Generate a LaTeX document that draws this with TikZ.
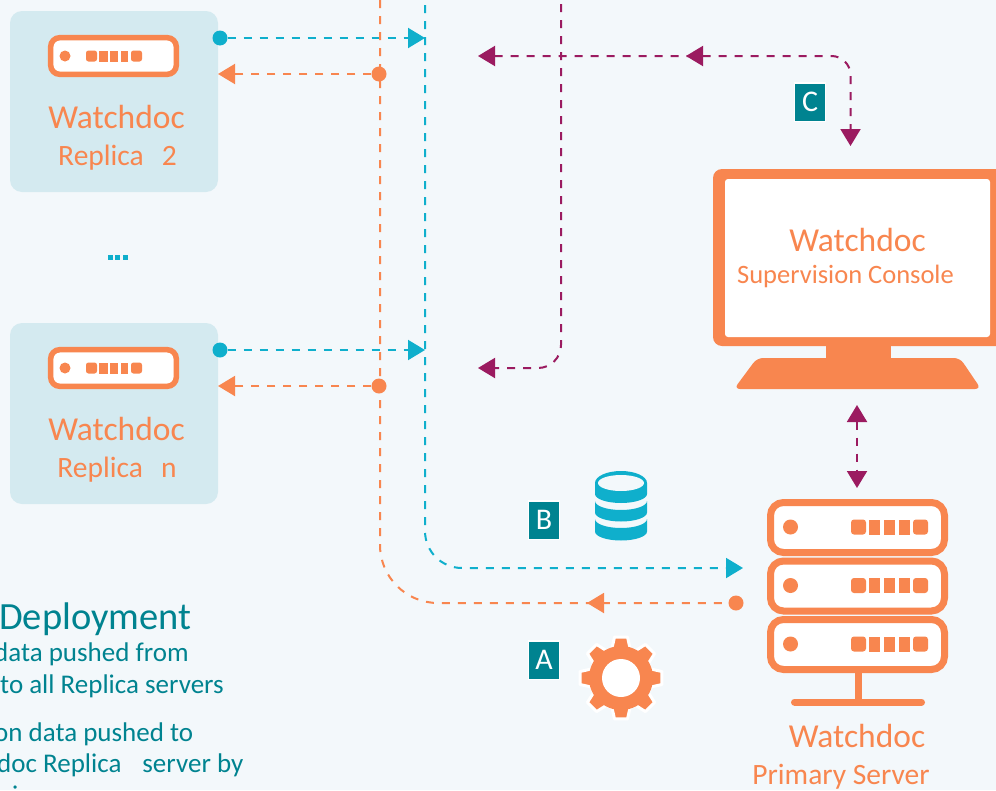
\documentclass[tikz,border=0pt]{standalone}
\usepackage{fontspec}
\setmainfont{Carlito}
\usetikzlibrary{arrows.meta}
\definecolor{bgc}{HTML}{F3F8FB}
\definecolor{boxc}{HTML}{D4EAF0}
\definecolor{org}{HTML}{F8864F}
\definecolor{blu}{HTML}{0FAFCC}
\definecolor{pur}{HTML}{9B1B60}
\definecolor{tea}{HTML}{008390}
\tikzset{
  lab/.style={anchor=base,text=org,inner sep=0pt,font=\fontsize{#1}{#1}\selectfont},
  leg/.style={anchor=base west,text=tea,inner sep=0pt,font=\fontsize{#1}{#1}\selectfont},
  conn/.style={dash pattern=on 8pt off 8pt,line width=2pt},
  tipb/.style={-{Triangle[length=17pt,width=20pt]}},
  tiptwo/.style={{Triangle[length=17pt,width=20pt]}-{Triangle[length=17pt,width=20pt]}},
  dotnode/.style={circle,fill=#1,draw=none,minimum size=15pt,inner sep=0pt},
  tagbox/.style={fill=tea,draw=white,line width=1.5pt,text=white,minimum width=31pt,minimum height=38.5pt,inner sep=0pt,font=\fontsize{30}{30}\selectfont},
  panel/.style={fill=boxc,rounded corners=12pt},
  rack/.style={draw=org,fill=white,rounded corners=#1},
}
% small server: #1 top y
\newcommand{\smallserver}[1]{%
  \draw[rack=9pt,line width=5.5pt] (50.7,#1+2.7) rectangle (176.3,#1+39.3);
  \fill[org] (65,#1+21) circle (5.5pt);
  \fill[org,rounded corners=2.5pt] (86,#1+15.5) rectangle (97,#1+26.5);
  \fill[org] (99,#1+15.5) rectangle (107.5,#1+26.5);
  \fill[org] (110,#1+15.5) rectangle (118,#1+26.5);
  \fill[org] (120.5,#1+15.5) rectangle (128,#1+26.5);
  \fill[org,rounded corners=2.5pt] (131,#1+15.5) rectangle (142,#1+26.5);
}
% large rack: #1 top y
\newcommand{\bigrack}[1]{%
  \draw[rack=13pt,line width=7pt] (770.5,#1+3.5) rectangle (944.5,#1+53.5);
  \fill[org] (790.5,#1+28) circle (7.5pt);
  \fill[org,rounded corners=3pt] (851,#1+20.5) rectangle (866,#1+35.5);
  \fill[org] (869,#1+20.5) rectangle (880,#1+35.5);
  \fill[org] (884,#1+20.5) rectangle (895,#1+35.5);
  \fill[org] (899,#1+20.5) rectangle (909.5,#1+35.5);
  \fill[org,rounded corners=3pt] (913,#1+20.5) rectangle (928,#1+35.5);
}
\begin{document}
\begin{tikzpicture}[x=1pt,y=-1pt]
\useasboundingbox (0,0) rectangle (996,790);
\clip (0,0) rectangle (996,790);
\fill[bgc] (0,0) rectangle (996,790);

% replica panels
\fill[panel] (10,11) rectangle (218,192);
\fill[panel] (10,323) rectangle (218,504);
\smallserver{35}
\smallserver{347}
\node[lab=33.5] (w2) at (116.5,128) {Watchdoc};
\node[lab=29.5] (r2) at (117.5,165) {Replica\hspace{18pt}2};
\node[lab=33.5] (wn) at (116.5,440) {Watchdoc};
\node[lab=29.5] (rn) at (117,477) {Replica\hspace{18pt}n};
\foreach \i/\x in {1/108,2/115,3/122.7} \fill[blu] (\x,254.7) rectangle +(5.2,5.2);

% monitor
\fill[org,rounded corners=9pt] (713,169) rectangle (1010,346);
\fill[white,rounded corners=3pt] (725,179) rectangle (990,337);
\fill[org] (826,345) rectangle (891,360);
\fill[org,rounded corners=6pt] (757,358) -- (960,358) -- (981,389) -- (734,389) -- cycle;
\node[lab=33.5] (wm) at (857.5,251) {Watchdoc};
\node[lab=26.5] (sc) at (845.5,283) {Supervision Console};

% primary server
\bigrack{499}
\bigrack{557.5}
\bigrack{616}
\draw[org,line width=7pt] (858,673) -- (858,702);
\draw[org,line width=7pt,line cap=round] (794.5,702) -- (921.5,702);
\node[lab=33.5] (wp) at (857,747) {Watchdoc};
\node[lab=29.5] (ps) at (841,784) {Primary Server};

% end points
\node[dotnode=blu] (bd2) at (220,38) {};
\node[dotnode=blu] (bdn) at (220,350) {};
\node[dotnode=org] (od2) at (379,74) {};
\node[dotnode=org] (odn) at (379,386) {};
\node[dotnode=org] (odp) at (736,603) {};
\coordinate (bt2) at (425,38);
\coordinate (btn) at (425,350);
\coordinate (ot2) at (218,74);
\coordinate (otn) at (218,386);
\coordinate (btop) at (425,5);
\coordinate (bcor) at (425,568);
\coordinate (bend) at (743,568);
\coordinate (otop) at (380,0);
\coordinate (ocor) at (380,603);
\coordinate (omid) at (587,603);
\coordinate (omidb) at (604,603);
\coordinate (ptop) at (561,4);
\coordinate (pcor) at (561,368);
\coordinate (pl2) at (478,368);
\coordinate (pl1) at (478,56);
\coordinate (pmid) at (686,56);
\coordinate (pmidb) at (703,56);
\coordinate (pcor2) at (850.5,56);
\coordinate (pcon) at (850.5,146);
\coordinate (vup) at (857,405);
\coordinate (vdn) at (857,488);

% blue
\draw[blu,conn,tipb] (bd2) -- (bt2);
\draw[blu,conn,tipb] (bdn) -- (btn);
\draw[blu,conn,tipb,rounded corners=37pt] (btop) -- (bcor) -- (bend);
% orange
\draw[org,conn,tipb] (od2) -- (ot2);
\draw[org,conn,tipb] (odn) -- (otn);
\draw[org,conn,rounded corners=58pt] (otop) -- (ocor) -- (odp);
\draw[org,tipb,line width=2pt] (omidb) -- (omid);
% purple
\draw[pur,conn,tipb,rounded corners=23pt] (ptop) -- (pcor) -- (pl2);
\draw[pur,conn,tiptwo,rounded corners=19pt] (pl1) -- (pcor2) -- (pcon);
\draw[pur,tipb,line width=2pt] (pmidb) -- (pmid);
\draw[pur,conn,tiptwo] (vup) -- (vdn);

% tags
\node[tagbox] (tc) at (810,102) {C};
\node[tagbox] (tb) at (544,520) {B};
\node[tagbox] (ta) at (544,660) {A};

% database
\fill[blu] (595,494) arc[start angle=180,end angle=0,x radius=26,y radius=9] -- (647,483) arc[start angle=0,end angle=-180,x radius=26,y radius=12] -- cycle;
\fill[bgc] (621,483) ellipse (23pt and 8pt);
\fill[blu] (595,501) arc[start angle=180,end angle=0,x radius=26,y radius=9] -- (647,512.5) arc[start angle=0,end angle=180,x radius=26,y radius=9] -- cycle;
\fill[blu] (595,519) arc[start angle=180,end angle=0,x radius=26,y radius=9] -- (647,531.5) arc[start angle=0,end angle=180,x radius=26,y radius=9] -- cycle;

% gear
\begin{scope}[shift={(621,678)}]
  \fill[org,draw=white,line width=3pt,line join=round]
    (-9:41.5) -- (9:41.5) -- (17:31) -- (28:31) -- (36:41.5) -- (54:41.5) -- (62:31) -- (73:31) -- (81:41.5) -- (99:41.5) -- (107:31) -- (118:31) -- (126:41.5) -- (144:41.5) -- (152:31) -- (163:31) -- (171:41.5) -- (189:41.5) -- (197:31) -- (208:31) -- (216:41.5) -- (234:41.5) -- (242:31) -- (253:31) -- (261:41.5) -- (279:41.5) -- (287:31) -- (298:31) -- (306:41.5) -- (324:41.5) -- (332:31) -- (343:31) -- (351:41.5) -- cycle;
  \fill[org] (0,0) circle (32pt);
  \fill[white] (0,0) circle (19pt);
\end{scope}

% legend
\node[leg=38.5] (l1) at (-1,629) {Deployment};
\node[leg=27] (l2) at (-6,661) {data pushed from};
\node[leg=27] (l3) at (0,693) {to all Replica servers};
\node[leg=27] (l4) at (-6,741) {on data pushed to};
\node[leg=27] (l5) at (-3,772) {doc Replica\hspace{21pt}server by};
\node[leg=27] (l6) at (12,804) {i};
\end{tikzpicture}
\end{document}
